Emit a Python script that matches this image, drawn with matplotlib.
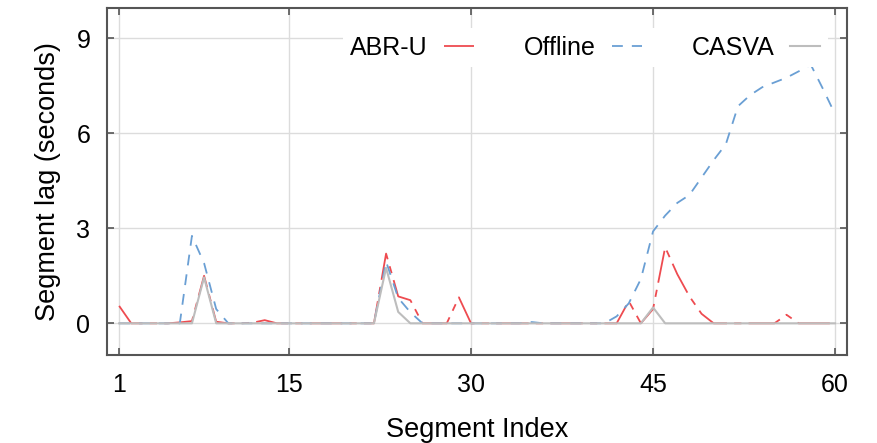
import numpy as np
import matplotlib
matplotlib.use('Agg')
import matplotlib.pyplot as plt

plt.rcParams['font.family'] = ['Liberation Sans', 'DejaVu Sans']

# indice de segmento 1..60
segmentos = np.arange(1, 61)

# retraso por segmento (s)
abr_u = [0.55, 0, 0, 0, 0, 0.03, 0.07, 1.5, 0.05, 0,
         0, 0.02, 0.1, 0, 0, 0, 0, 0, 0, 0,
         0, 0, 2.2, 0.85, 0.73, 0, 0, 0, 0.82, 0,
         0, 0, 0, 0, 0, 0, 0, 0, 0, 0,
         0, 0, 0.7, 0, 0.45, 2.4, 1.55, 0.85, 0.3, 0,
         0, 0, 0, 0, 0, 0.27, 0, 0, 0, 0]

offline = [0, 0, 0, 0, 0, 0, 2.76, 1.9, 0.45, 0,
           0, 0, 0, 0, 0, 0, 0, 0, 0, 0,
           0, 0, 1.95, 0.8, 0.35, 0, 0, 0, 0, 0,
           0, 0, 0, 0, 0.04, 0, 0, 0, 0, 0,
           0, 0.22, 0.63, 1.4, 2.9, 3.4, 3.8, 4.05, 4.6, 5.15,
           5.65, 6.85, 7.2, 7.45, 7.6, 7.75, 7.95, 8.16, 7.4, 6.6]

casva = [0, 0, 0, 0, 0, 0, 0, 1.45, 0, 0,
         0, 0, 0, 0, 0, 0, 0, 0, 0, 0,
         0, 0, 1.75, 0.36, 0, 0, 0, 0, 0, 0,
         0, 0, 0, 0, 0, 0, 0, 0, 0, 0,
         0, 0, 0, 0, 0.5, 0, 0, 0, 0, 0,
         0, 0, 0, 0, 0, 0, 0, 0, 0, 0]

xticks = [1, 15, 30, 45, 60]
yticks = [0, 3, 6, 9]

fig = plt.figure(figsize=(8.77, 4.43), dpi=100)
ax = fig.add_axes([0.122, 0.1986, 0.844, 0.7834])

ax.plot(segmentos, abr_u, color='#ee4b50', lw=1.3, dashes=(18, 4, 4, 4), label='ABR-U')
ax.plot(segmentos, offline, color='#6a9fd4', lw=1.3, dashes=(6, 5), label='Offline')
ax.plot(segmentos, casva, color='#bdbdbd', lw=1.5, label='CASVA')

ax.set_xlim(0, 61)
ax.set_ylim(-1.0, 9.95)
ax.set_xticks(xticks)
ax.set_yticks(yticks)
ax.grid(True, color='#dcdcdc', lw=1.0)
ax.set_axisbelow(True)

ax.tick_params(direction='in', top=True, right=True, length=5, width=1.2,
               color='#555555', labelsize=18, pad=12)
ax.tick_params(axis='x', pad=13)
for s in ax.spines.values():
    s.set_color('#555555')
    s.set_linewidth(1.5)

ax.set_xlabel('Segment Index', fontsize=19.5, labelpad=14)
ax.set_ylabel('Segment lag (seconds)', fontsize=19.5, labelpad=11)

leg = ax.legend(loc='center', bbox_to_anchor=(0.646, 0.886), ncol=3, markerfirst=False,
                fontsize=18, handlelength=1.2, handletextpad=0.64, columnspacing=2.0,
                frameon=True, fancybox=False, borderpad=0.3)
leg.get_frame().set_facecolor('white')
leg.get_frame().set_edgecolor('none')
leg.get_frame().set_alpha(1.0)

fig.savefig('out.png', dpi=100)
